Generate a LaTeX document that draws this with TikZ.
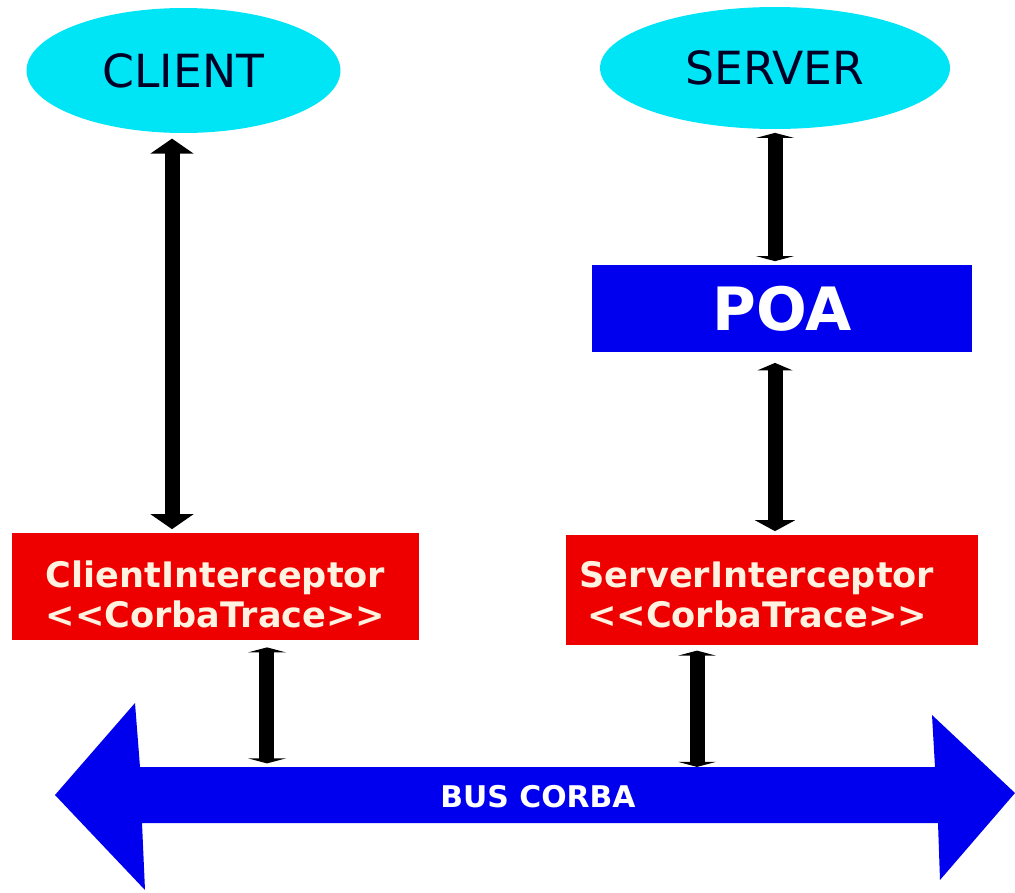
\documentclass[tikz,border=0pt]{standalone}
\usepackage{fontspec}
\setmainfont{DejaVu Sans}
\usetikzlibrary{arrows.meta,shapes.geometric}

\definecolor{skycyan}{RGB}{0,229,245}
\definecolor{boxred}{RGB}{238,0,0}
\definecolor{busblue}{RGB}{0,0,238}
\definecolor{creamtext}{RGB}{255,242,225}

\tikzset{
	actor/.style={ellipse,fill=skycyan,inner sep=0pt,text=black!85!blue,font=\fontsize{26}{26}\selectfont},
	tracebox/.style={rectangle,fill=boxred,inner sep=0pt,align=left,text=creamtext,font=\bfseries\fontsize{20}{23}\selectfont},
	link/.style={line width=0.3cm,black},
	bighead/.style={{Triangle[width=0.85cm,length=0.3cm]}-{Triangle[width=0.85cm,length=0.3cm]}},
	flathead/.style={{Triangle[width=0.75cm,length=0.1cm]}-{Triangle[width=0.75cm,length=0.1cm]}},
}

\begin{document}
\begin{tikzpicture}[x=0.02cm,y=-0.02cm]
	\useasboundingbox (0,0) rectangle (1015,893);
	% actors
	\node[actor,minimum width=6.28cm,minimum height=2.5cm] (client) at (183.5,70.5) {CLIENT};
	\node[actor,minimum width=7cm,minimum height=2.44cm] (server) at (775,68) {SERVER};
	\node[rectangle,fill=busblue,text=white,font=\bfseries\fontsize{34}{34}\selectfont,minimum width=7.6cm,minimum height=1.74cm] (poa) at (782,308.5) {POA};
	% interceptors
	\node[tracebox,minimum width=8.14cm,minimum height=2.14cm] (ci) at (215.5,586.5) {\rule{0pt}{24pt}ClientInterceptor\\<{}<CorbaTrace>{}>};
	\node[tracebox,align=center,minimum width=8.24cm,minimum height=2.2cm] (si) at (772,590) {\rule{0pt}{20pt}ServerInterceptor\hspace*{0.6cm}\\<{}<CorbaTrace>{}>\hspace*{0.6cm}};
	% bus
	\fill[busblue] (55,795) -- (135,703) -- (140,767) -- (935,767) -- (932,715) -- (1015,793) -- (940,880) -- (938,823) -- (142,823) -- (145,890) -- cycle;
	\node[text=white,font=\bfseries\fontsize{17}{17}\selectfont,minimum width=15.8cm,minimum height=1.12cm,inner sep=0pt] (bus) at (538,797) {BUS CORBA};
	% connectors
	\draw[link,bighead,shorten <=3pt,shorten >=2pt] ([xshift=-0.23cm]client.south) -- ([xshift=-0.23cm]client.south |- ci.north);
	\draw[link,flathead,shorten <=2pt,shorten >=2pt] (server.south) -- (server.south |- poa.north);
	\draw[link,{Triangle[width=0.7cm,length=0.15cm]}-{Triangle[width=0.8cm,length=0.22cm]},shorten <=6pt,shorten >=2pt] (server.south |- poa.south) -- (server.south |- si.north);
	\draw[link,flathead,shorten <=4pt,shorten >=3pt] ([xshift=1.03cm]ci.south) -- ([xshift=1.03cm]ci.south |- bus.north);
	\draw[link,flathead,shorten <=3pt,shorten >=1pt] ([xshift=-1.5cm]si.south) -- ([xshift=-1.5cm]si.south |- bus.north);
\end{tikzpicture}
\end{document}
